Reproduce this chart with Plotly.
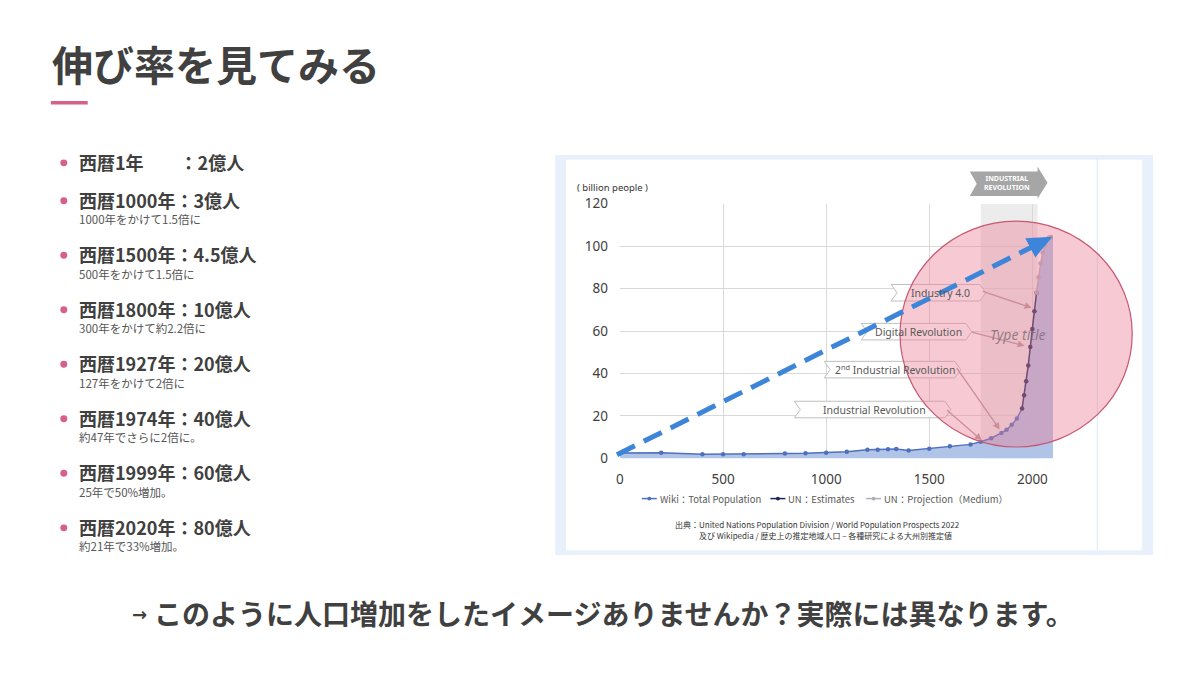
import math
import plotly.graph_objects as go

# --- data (unit: 100 million people) ---
wiki_years = [1, 200, 400, 500, 600, 800, 900, 1000, 1100, 1200, 1250, 1300, 1340,
              1400, 1500, 1600, 1700, 1750, 1800, 1850, 1875, 1900, 1925]
wiki_pop = [2.5, 2.6, 2.0, 2.0, 2.0, 2.3, 2.4, 2.7, 3.1, 4.1, 4.1, 4.3, 4.4,
            3.7, 4.6, 5.7, 6.6, 7.8, 9.5, 12.0, 13.5, 15.8, 18.8]
un_years = [1950, 1960, 1970, 1980, 1990, 2000, 2010, 2020]
un_pop = [23.5, 29.8, 36.4, 43.8, 52.5, 61.0, 69.3, 78.0]
proj_years = [2020, 2030, 2040, 2050, 2060, 2070, 2080, 2090, 2100]
proj_pop = [78.0, 85.3, 91.8, 96.9, 100.6, 103.0, 104.1, 104.3, 104.0]

x_ticks = [0, 500, 1000, 1500, 2000]
band_years = [1750, 2025]

bullet_main = ["西暦1年　　：2億人", "西暦1000年：3億人", "西暦1500年：4.5億人",
               "西暦1800年：10億人", "西暦1927年：20億人", "西暦1974年：40億人",
               "西暦1999年：60億人", "西暦2020年：80億人"]
bullet_sub = ["", "1000年をかけて1.5倍に", "500年をかけて1.5倍に", "300年をかけて約2.2倍に",
              "127年をかけて2倍に", "約47年でさらに2倍に。", "25年で50%増加。", "約21年で33%増加。"]

callouts = ["Industrial Revolution", "2<sup>nd</sup> Industrial Revolution",
            "Digital Revolution", "Industry 4.0"]

W, H = 1200, 675
JP = "Noto Sans CJK JP"
DARK = "#404040"
PINK = "#d6608a"


def fx(p):
    return p / W


def fy(p):
    return 1 - p / H


def pts(p):
    return " L ".join(f"{fx(a):.5f},{fy(b):.5f}" for a, b in p)


fig = go.Figure()

all_x = wiki_years + un_years + proj_years[1:]
all_y = wiki_pop + un_pop + proj_pop[1:]
fig.add_trace(go.Scatter(x=all_x, y=all_y, fill="tozeroy", mode="none",
                         fillcolor="#b0c4e8", hoverinfo="skip", showlegend=False))
fig.add_trace(go.Scatter(x=wiki_years, y=wiki_pop, mode="lines+markers",
                         name="Wiki：Total Population",
                         line=dict(color="#4f6fbf", width=1.5),
                         marker=dict(size=4.5, color="#4f6fbf")))
fig.add_trace(go.Scatter(x=[wiki_years[-1], un_years[0]], y=[wiki_pop[-1], un_pop[0]],
                         mode="lines", line=dict(color="#4f6fbf", width=1.5),
                         hoverinfo="skip", showlegend=False))
fig.add_trace(go.Scatter(x=un_years, y=un_pop, mode="lines+markers",
                         name="UN：Estimates",
                         line=dict(color="#1c2557", width=1.5),
                         marker=dict(size=4.5, color="#1c2557")))
fig.add_trace(go.Scatter(x=proj_years, y=proj_pop, mode="lines+markers",
                         name="UN：Projection（Medium）",
                         line=dict(color="#b3adb8", width=1.5),
                         marker=dict(size=4.5, color="#b3adb8")))

shapes = []
# picture frame
shapes.append(dict(type="rect", xref="paper", yref="paper", layer="below",
                   x0=fx(553), x1=fx(1153), y0=fy(561), y1=fy(150),
                   fillcolor="#e8f1fb", line=dict(width=0)))
shapes.append(dict(type="rect", xref="paper", yref="paper", layer="below",
                   x0=fx(564), x1=fx(1142), y0=fy(556), y1=fy(155),
                   fillcolor="white", line=dict(width=0)))
shapes.append(dict(type="line", xref="paper", yref="paper", layer="below",
                   x0=fx(1097), x1=fx(1097), y0=fy(556), y1=fy(153),
                   line=dict(color="#dce8f5", width=1)))
# industrial revolution band
shapes.append(dict(type="rect", xref="x", yref="y", layer="below",
                   x0=band_years[0], x1=band_years[1], y0=0, y1=120,
                   fillcolor="#ececec", line=dict(width=0)))

# gray arrow banner
banner = [(969, 167), (1037, 167), (1037, 162), (1047, 178.5), (1037, 195),
          (1037, 192), (969, 192), (976, 179.5)]
shapes.append(dict(type="path", xref="paper", yref="paper", path="M " + pts(banner) + " Z",
                   fillcolor="#a6a6a6", line=dict(width=0)))

# callout boxes (below the circle)
boxes = [(793, 950, 403, 420), (823, 960, 362, 379), (860, 971, 323, 340), (890, 985, 283, 300)]
for x0, x1, y0, y1 in boxes:
    ym = (y0 + y1) / 2
    d = 6
    p = [(x0, y0), (x1 - d, y0), (x1, ym), (x1 - d, y1), (x0, y1), (x0 + d, ym)]
    shapes.append(dict(type="path", xref="paper", yref="paper", path="M " + pts(p) + " Z",
                       fillcolor="white", line=dict(color="#bfbfbf", width=1)))

# callout pointer arrows
arrows = [((946, 412), (981, 443)), ((956, 369), (999, 432)),
          ((971, 332), (1024, 346)), ((982, 290), (1031, 307))]
for (ax0, ay0), (ax1, ay1) in arrows:
    la = math.hypot(ax1 - ax0, ay1 - ay0)
    vx, vy = (ax1 - ax0) / la, (ay1 - ay0) / la
    hx, hy = ax1 - 7 * vx, ay1 - 7 * vy
    shapes.append(dict(type="line", xref="paper", yref="paper",
                       x0=fx(ax0), y0=fy(ay0), x1=fx(hx), y1=fy(hy),
                       line=dict(color="#b8979e", width=1.3)))
    tri = [(ax1, ay1), (hx - 3.5 * vy, hy + 3.5 * vx), (hx + 3.5 * vy, hy - 3.5 * vx)]
    shapes.append(dict(type="path", xref="paper", yref="paper", path="M " + pts(tri) + " Z",
                       fillcolor="#b8979e", line=dict(width=0)))

# pink circle
shapes.append(dict(type="circle", xref="paper", yref="paper",
                   x0=fx(899), x1=fx(1132), y0=fy(450), y1=fy(218),
                   fillcolor="rgba(233,127,151,0.42)", line=dict(color="#c65872", width=1.2)))

# blue dashed arrow
sx, sy = 615, 458
tx, ty = 1052, 234
L = math.hypot(tx - sx, ty - sy)
ux, uy = (tx - sx) / L, (ty - sy) / L
hl, hw = 25, 11
bx, by = tx - hl * ux, ty - hl * uy
shapes.append(dict(type="line", xref="paper", yref="paper",
                   x0=fx(sx), y0=fy(sy), x1=fx(bx + 2 * ux), y1=fy(by + 2 * uy),
                   line=dict(color="#3d85d8", width=5, dash="20px,10px")))
head = [(tx, ty), (bx - hw * uy, by + hw * ux), (bx + hw * uy, by - hw * ux)]
shapes.append(dict(type="path", xref="paper", yref="paper", path="M " + pts(head) + " Z",
                   fillcolor="#3d85d8", line=dict(width=0)))

# title underline
shapes.append(dict(type="rect", xref="paper", yref="paper",
                   x0=fx(47), x1=fx(84), y0=fy(98), y1=fy(94.5),
                   fillcolor=PINK, line=dict(width=0)))

# custom legend glyphs
leg = [(640, 655, "#4f6fbf", "Wiki：Total Population"),
       (769, 784, "#1c2557", "UN：Estimates"),
       (865, 880, "#b3adb8", "UN：Projection（Medium）")]
ann = []
for a, b, col, txt in leg:
    shapes.append(dict(type="line", xref="paper", yref="paper",
                       x0=fx(a), x1=fx(b), y0=fy(503), y1=fy(503),
                       line=dict(color=col, width=1.5)))
    m = (a + b) / 2
    shapes.append(dict(type="circle", xref="paper", yref="paper",
                       x0=fx(m - 2), x1=fx(m + 2), y0=fy(505), y1=fy(501),
                       fillcolor=col, line=dict(width=0)))
    ann.append(dict(x=fx(b + 1), y=fy(503), text=txt, xanchor="left", yanchor="middle",
                    font=dict(family=JP, size=9.5, color="#595959")))

# bullet dots
main_y = [158, 197, 253, 309, 365, 421, 477, 533]
for yy in main_y:
    shapes.append(dict(type="circle", xref="paper", yref="paper",
                       x0=fx(56.5), x1=fx(63.5), y0=fy(yy + 3.5), y1=fy(yy - 3.5),
                       fillcolor=PINK, line=dict(width=0)))

# --- text ---
ann.append(dict(x=fx(46), y=fy(55), text="<b>伸び率を見てみる</b>", xanchor="left", yanchor="middle",
                font=dict(family=JP, size=41, color=DARK)))
for i, yy in enumerate(main_y):
    ann.append(dict(x=fx(73), y=fy(yy - 1), text=f"<b>{bullet_main[i]}</b>", xanchor="left",
                    yanchor="middle", font=dict(family=JP, size=18, color=DARK)))
    if bullet_sub[i]:
        ann.append(dict(x=fx(73), y=fy(yy + 19), text=bullet_sub[i], xanchor="left",
                        yanchor="middle", font=dict(family=JP, size=11.5, color="#555555")))

ann.append(dict(x=fx(126), y=fy(622), text="<b>→</b>", xanchor="left", yanchor="middle",
                font=dict(family="DejaVu Sans", size=18, color=DARK)))
ann.append(dict(x=fx(148), y=fy(621),
                text="<b>このように人口増加をしたイメージありませんか？実際には異なります。</b>",
                xanchor="left", yanchor="middle", font=dict(family=JP, size=28, color=DARK)))

# chart texts
ann.append(dict(x=fx(573), y=fy(183), text="( billion people )", xanchor="left", yanchor="middle",
                font=dict(family="Noto Sans", size=9.5, color="#333333")))
ann.append(dict(x=fx(1006), y=fy(179), text="<b>INDUSTRIAL<br>REVOLUTION</b>",
                xanchor="center", yanchor="middle",
                font=dict(family="Noto Sans", size=7, color="white")))
for (x0, x1, y0, y1), txt in zip(boxes, callouts):
    ann.append(dict(x=fx((x0 + x1) / 2 + 2), y=fy((y0 + y1) / 2), text=txt,
                    xanchor="center", yanchor="middle",
                    font=dict(family="Noto Sans", size=10.5, color="#595959")))
ann.append(dict(x=fx(1017), y=fy(334), text="<i>Type title</i>", xanchor="center",
                yanchor="middle", font=dict(family="Noto Sans", size=14, color="rgba(120,100,110,0.75)")))
ann.append(dict(x=fx(816), y=fy(530),
                text="出典：United Nations Population Division / World Population Prospects 2022",
                xanchor="center", yanchor="middle", font=dict(family=JP, size=8, color="#333333")))
ann.append(dict(x=fx(824), y=fy(541),
                text="及び Wikipedia / 歴史上の推定地域人口 – 各種研究による大州別推定値",
                xanchor="center", yanchor="middle", font=dict(family=JP, size=8, color="#333333")))

for a in ann:
    a.setdefault("xref", "paper")
    a.setdefault("yref", "paper")
    a.setdefault("showarrow", False)

fig.update_layout(
    width=W, height=H,
    margin=dict(l=0, r=0, t=0, b=0),
    paper_bgcolor="white",
    plot_bgcolor="rgba(0,0,0,0)",
    showlegend=False,
    shapes=shapes,
    annotations=ann,
    xaxis=dict(domain=[fx(618), fx(1052.5)], range=[0, 2100], tickvals=x_ticks,
               showgrid=True, gridcolor="#d9d9d9", zeroline=False, showline=False,
               ticks="", ticklabelstandoff=11,
               tickfont=dict(family="Noto Sans", size=13.5, color=DARK)),
    yaxis=dict(domain=[fy(461.7), fy(200)], range=[0, 120], dtick=20,
               showgrid=True, gridcolor="#d9d9d9", zeroline=False, showline=False,
               ticks="", ticklabelstandoff=11,
               tickfont=dict(family="Noto Sans", size=13.5, color=DARK)),
)

fig.write_html("out.html", config={"displayModeBar": False},
               post_script="document.body.style.margin='0';")
